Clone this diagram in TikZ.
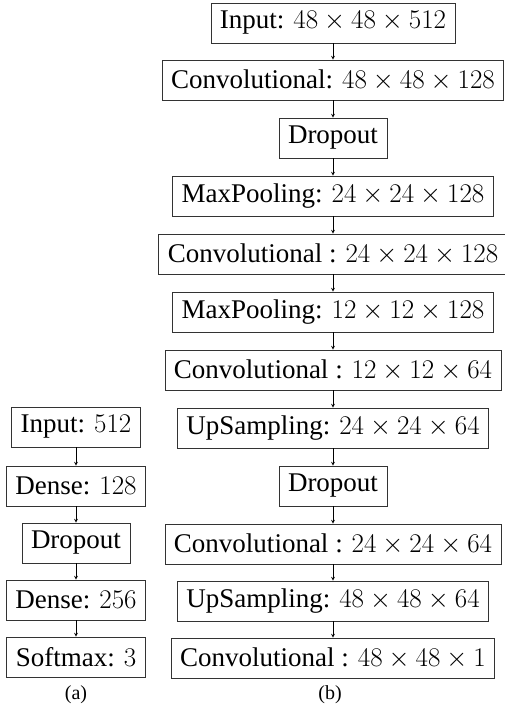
\RequirePackage{fix-cm}
\documentclass[tikz,border=0pt]{standalone}
\usepackage[no-math]{fontspec}
\setmainfont{Liberation Serif}
\begin{document}
\begin{tikzpicture}[x=1pt,y=-1pt,
  layer/.style={draw=black!80,line width=0.8pt,minimum height=40pt,inner xsep=9pt,inner ysep=0pt,font=\fontsize{27}{32}\selectfont},
  subcap/.style={font=\fontsize{20}{24}\selectfont},
  conn/.style={->,>=stealth,line width=0.7pt}]
\useasboundingbox (0,0) rectangle (505,711);
% right column
\node[layer] (b1) at (333,23) {Input: $48\times48\times512$};
\node[layer] (b2) at (333,80) {Convolutional: $48\times48\times128$};
\node[layer] (b3) at (333,138) {Dropout};
\node[layer] (b4) at (333,196) {MaxPooling: $24\times24\times128$};
\node[layer] (b5) at (333,254) {Convolutional : $24\times24\times128$};
\node[layer] (b6) at (333,312) {MaxPooling: $12\times12\times128$};
\node[layer] (b7) at (333,370) {Convolutional : $12\times12\times64$};
\node[layer] (b8) at (333,428) {UpSampling: $24\times24\times64$};
\node[layer] (b9) at (333,486) {Dropout};
\node[layer] (b10) at (333,544) {Convolutional : $24\times24\times64$};
\node[layer] (b11) at (333,601) {UpSampling: $48\times48\times64$};
\node[layer] (b12) at (333,658) {Convolutional : $48\times48\times1$};
\foreach \i [evaluate=\i as \j using int(\i+1)] in {1,...,11}
  \draw[conn] (b\i) -- (b\j);
% left column
\node[layer] (a1) at (76,427) {Input: $512$};
\node[layer] (a2) at (76,486) {Dense: $128$};
\node[layer] (a3) at (76,543) {Dropout};
\node[layer] (a4) at (76,600) {Dense: $256$};
\node[layer] (a5) at (76,657) {Softmax: $3$};
\foreach \i [evaluate=\i as \j using int(\i+1)] in {1,...,4}
  \draw[conn] (a\i) -- (a\j);
\node[subcap] (la) at (76,695) {(a)};
\node[subcap] (lb) at (330,695) {(b)};
\end{tikzpicture}
\end{document}
